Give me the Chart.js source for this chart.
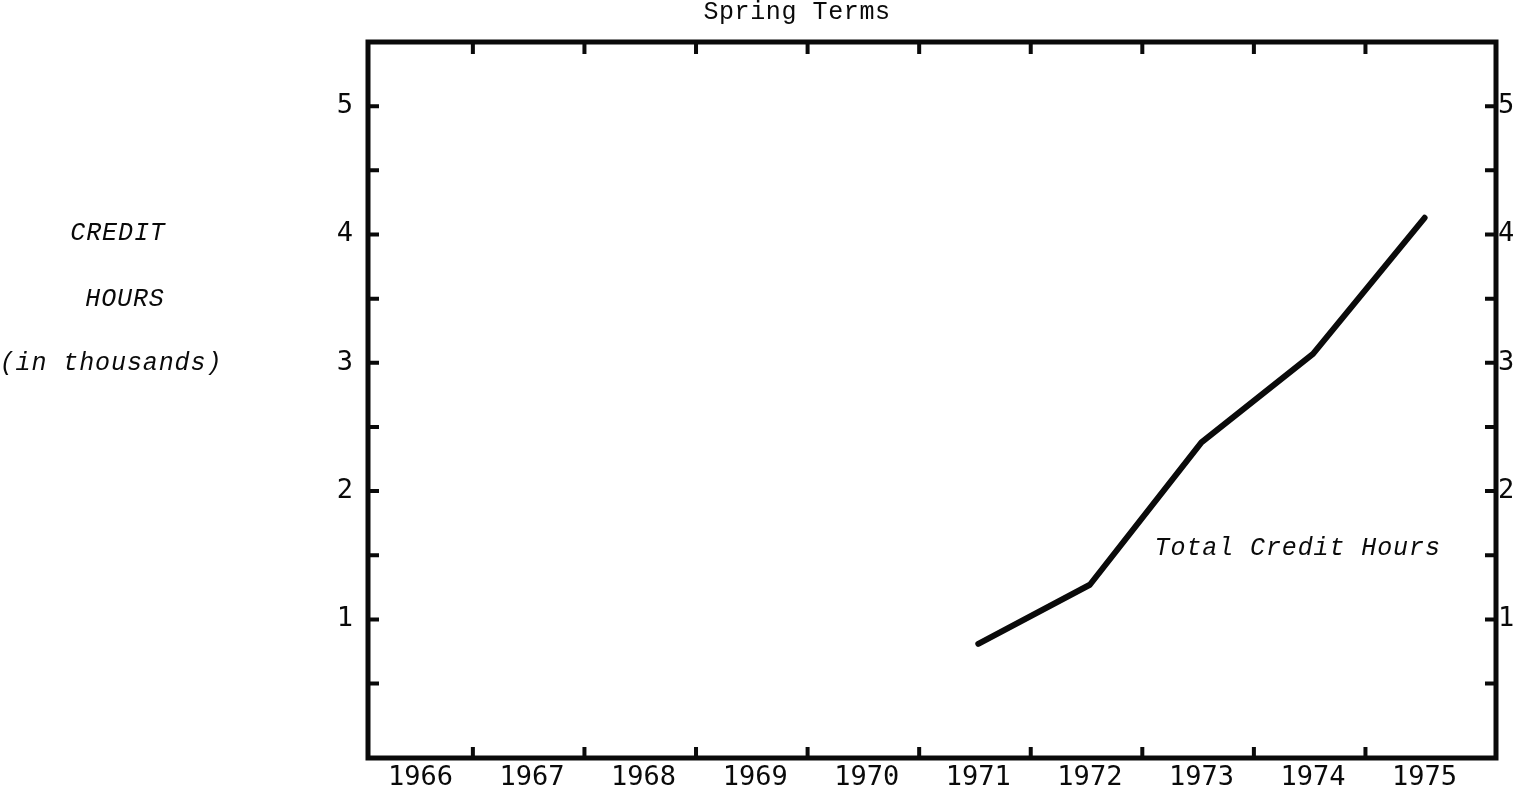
<!DOCTYPE html>
<html lang="en">
  <head>
    <meta charset="UTF-8" />
    <script src="https://cdn.jsdelivr.net/npm/chart.js"></script>
    <title>Spring Terms</title>
    <style>
      body {
        margin: 0;
        background: #fff;
      }
      #wrap {
        width: 1516px;
        height: 802px;
      }
    </style>
  </head>
  <body>
    <div id="wrap">
      <canvas id="chart" width="1516" height="802"></canvas>
    </div>
    <script>
      // setup area
      const years = [1966, 1967, 1968, 1969, 1970, 1971, 1972, 1973, 1974, 1975];
      const creditYears = [1971, 1972, 1973, 1974, 1975];
      const creditHours = [0.81, 1.27, 2.38, 3.07, 4.13];
      const hourTicks = [1, 2, 3, 4, 5];

      const ink = '#0a0a0a';
      const monoFont = '"DejaVu Sans Mono", "Liberation Mono", monospace';
      const typeFont = '"Liberation Mono", "DejaVu Sans Mono", monospace';

      function drawText(ctx, text, x, y, font, align, spacing) {
        ctx.save();
        ctx.font = font;
        ctx.fillStyle = ink;
        ctx.textAlign = align;
        ctx.textBaseline = 'middle';
        ctx.letterSpacing = spacing + 'px';
        ctx.fillText(text, x, y);
        ctx.restore();
      }

      // frame, inward tick marks and the loose text around the plot
      const framePlugin = {
        id: 'frame',
        afterDatasetsDraw(chart) {
          const { ctx, chartArea: a, scales } = chart;
          const x = scales.x;
          const y = scales.y;

          ctx.save();
          ctx.strokeStyle = ink;
          ctx.lineWidth = 5;
          ctx.strokeRect(a.left, a.top, a.right - a.left, a.bottom - a.top);

          ctx.lineWidth = 4;
          ctx.beginPath();
          years.slice(0, -1).forEach((yr) => {
            const px = x.getPixelForValue(yr + 0.47);
            ctx.moveTo(px, a.top);
            ctx.lineTo(px, a.top + 12);
            ctx.moveTo(px, a.bottom);
            ctx.lineTo(px, a.bottom - 11);
          });
          for (let v = 0.5; v <= 5; v += 0.5) {
            const py = y.getPixelForValue(v);
            ctx.moveTo(a.left, py);
            ctx.lineTo(a.left + 11, py);
            ctx.moveTo(a.right, py);
            ctx.lineTo(a.right - 11, py);
          }
          ctx.stroke();
          ctx.restore();

          const italic = 'italic 25px ' + typeFont;
          drawText(ctx, 'Spring Terms', 797, 12, '25px ' + typeFont, 'center', 0.6);
          drawText(ctx, 'CREDIT', 118, 233, italic, 'center', 0.9);
          drawText(ctx, 'HOURS', 125, 299, italic, 'center', 0.9);
          drawText(ctx, '(in thousands)', 111, 363, italic, 'center', 0.9);
          drawText(ctx, 'Total Credit Hours', x.getPixelForValue(1972.58), y.getPixelForValue(1.55),
            italic, 'left', 0.9);
        },
      };

      const axisFont = { family: monoFont, size: 27 };

      // Render area
      const chart = new Chart(document.getElementById('chart'), {
        type: 'line',
        data: {
          datasets: [
            {
              data: creditYears.map((yr, i) => ({ x: yr, y: creditHours[i] })),
              borderColor: ink,
              borderWidth: 6,
              borderCapStyle: 'round',
              borderJoinStyle: 'round',
              pointRadius: 0,
              tension: 0,
            },
          ],
        },
        options: {
          responsive: false,
          animation: false,
          layout: {
            padding: { top: 42, left: 0, right: 0, bottom: 0 },
          },
          plugins: {
            legend: { display: false },
            tooltip: { enabled: false },
          },
          scales: {
            x: {
              type: 'linear',
              min: 1965.53,
              max: 1975.64,
              afterBuildTicks: (scale) => {
                scale.ticks = years.map((v) => ({ value: v }));
              },
              afterFit: (scale) => {
                scale.height = 44;
              },
              grid: { display: false, drawTicks: false },
              border: { display: false },
              ticks: {
                color: ink,
                font: axisFont,
                padding: 4,
                maxRotation: 0,
                autoSkip: false,
                callback: (v) => String(v),
              },
            },
            y: {
              type: 'linear',
              position: 'left',
              min: -0.08,
              max: 5.5,
              afterBuildTicks: (scale) => {
                scale.ticks = hourTicks.map((v) => ({ value: v }));
              },
              afterFit: (scale) => {
                scale.width = 368;
              },
              grid: { display: false, drawTicks: false },
              border: { display: false },
              ticks: { color: ink, font: axisFont, padding: 15 },
            },
            y2: {
              type: 'linear',
              position: 'right',
              min: -0.08,
              max: 5.5,
              afterBuildTicks: (scale) => {
                scale.ticks = hourTicks.map((v) => ({ value: v }));
              },
              afterFit: (scale) => {
                scale.width = 20;
              },
              grid: { display: false, drawTicks: false },
              border: { display: false },
              ticks: { color: ink, font: axisFont, padding: 2 },
            },
          },
        },
        plugins: [framePlugin],
      });
    </script>
  </body>
</html>
